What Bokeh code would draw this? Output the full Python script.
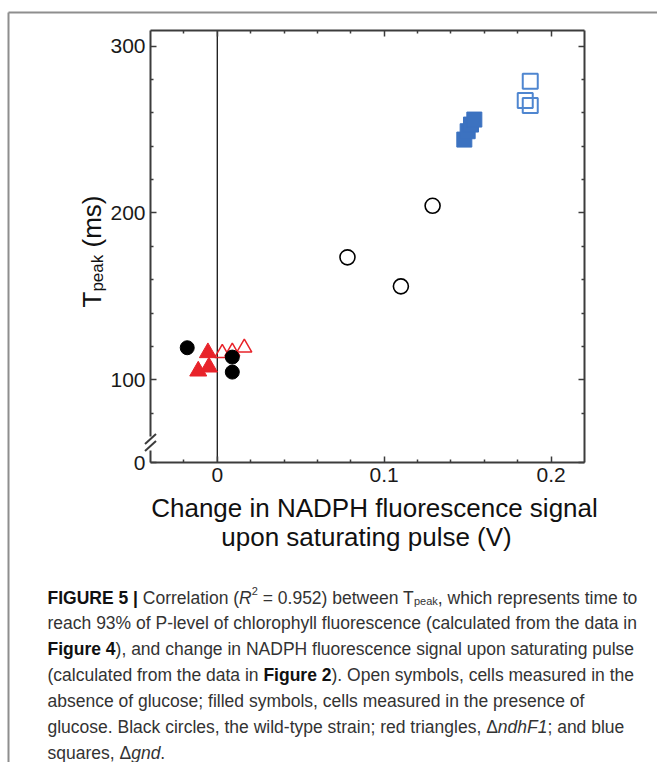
import math
from bokeh.plotting import figure
from bokeh.models import Range1d, LinearAxis, FixedTicker, Span, ColumnDataSource
from bokeh.core.properties import value, field
from bokeh.embed import file_html
from bokeh.resources import INLINE

# ---------------- data ----------------
wt_glc_x = [-0.018, 0.009, 0.009]
wt_glc_y = [119.2, 113.6, 104.6]
wt_noglc_x = [0.078, 0.110, 0.129]
wt_noglc_y = [173.4, 156.0, 204.3]
ndh_glc_x = [-0.0114, -0.005, -0.0056]
ndh_glc_y = [105.2, 107.6, 116.2]
ndh_noglc_x = [0.003, 0.009, 0.0162]
ndh_noglc_y = [116.0, 116.8, 119.2]
gnd_glc_x = [0.148, 0.150, 0.152, 0.154]
gnd_glc_y = [244.0, 249.0, 253.0, 256.0]
gnd_noglc_x = [0.1845, 0.1875, 0.1875]
gnd_noglc_y = [267.5, 264.5, 279.0]

x_ticks = [0.0, 0.1, 0.2]
x_tick_labels = ["0", "0.1", "0.2"]
x_minor = [-0.02, 0.02, 0.04, 0.06, 0.08, 0.12, 0.14, 0.16, 0.18]
y_ticks = [100, 200, 300]
y_tick_labels = ["100", "200", "300"]
y_minor = [80, 120, 140, 160, 180, 220, 240, 260, 280]
y_break_label = "0"

x_title = ["Change in NADPH fluorescence signal", "upon saturating pulse (V)"]
y_title = [("T", "r"), ("peak", "sub"), (" (ms)", "r")]

caption_lines = [
    [("FIGURE 5", "b"), (" | ", "b"), ("Correlation (", "r"), ("R", "i"), ("2", "sup"),
     (" = 0.952) between T", "r"), ("peak", "sub"), (", which represents time to", "r")],
    [("reach 93% of P-level of chlorophyll fluorescence (calculated from the data in", "r")],
    [("Figure 4", "b"), ("), and change in NADPH fluorescence signal upon saturating pulse", "r")],
    [("(calculated from the data in ", "r"), ("Figure 2", "b"), ("). Open symbols, cells measured in the", "r")],
    [("absence of glucose; filled symbols, cells measured in the presence of", "r")],
    [("glucose. Black circles, the wild-type strain; red triangles, \u0394", "r"), ("ndhF1", "i"), ("; and blue", "r")],
    [("squares, \u0394", "r"), ("gnd", "i"), (".", "r")],
]

# ---------------- page geometry ----------------
W, H = 657, 762
FL, FR, FT, FB = 150, 584, 30, 462
XL, XR = -0.04, 0.22
YB, YT = 50.4, 309.4
BORDER = "#8e8e8e"
AX = "#3c3c3c"
TICK_FONT = "Liberation Sans"
TITLE_FONT = "Liberation Sans"
CAP_FONT = "Liberation Sans"


def dx(cx):
    return XL + (cx - FL) * (XR - XL) / (FR - FL)


def dy(cy):
    return YB + (FB - cy) * (YT - YB) / (FB - FT)


# ---------------- text metrics (Arial-compatible widths) ----------------
REG = {}
for ch, w in zip("abcdefghijklmnopqrstuvwxyz",
                 [556, 556, 500, 556, 556, 278, 556, 556, 222, 222, 500, 222, 833, 556, 556, 556,
                  556, 333, 500, 278, 556, 500, 722, 500, 500, 500]):
    REG[ch] = w
for ch, w in zip("ABCDEFGHIJKLMNOPQRSTUVWXYZ",
                 [667, 667, 722, 722, 667, 611, 778, 722, 278, 500, 667, 556, 833, 722, 778, 667,
                  778, 722, 667, 611, 722, 667, 944, 667, 667, 611]):
    REG[ch] = w
for ch in "0123456789":
    REG[ch] = 556
REG.update({" ": 278, ".": 278, ",": 278, ";": 278, ":": 278, "(": 333, ")": 333, "|": 260,
            "=": 584, "%": 889, "-": 333, "\u0394": 668})
BOLD = dict(REG)
for ch, w in zip("abcdefghijklmnopqrstuvwxyz",
                 [556, 611, 556, 611, 556, 333, 611, 611, 278, 278, 556, 278, 889, 611, 611, 611,
                  611, 389, 556, 333, 611, 556, 778, 556, 556, 500]):
    BOLD[ch] = w
BOLD["|"] = 280


def text_w(s, size, bold=False):
    tbl = BOLD if bold else REG
    return sum(tbl.get(c, 556) for c in s) * size / 1000.0


def split_spaces(s):
    core = s.strip(" ")
    lead = len(s) - len(s.lstrip(" "))
    trail = len(s) - len(s.rstrip(" "))
    return lead, core, trail


# ---------------- figure ----------------
p = figure(width=W, height=H, output_backend="svg", toolbar_location=None,
           x_range=Range1d(XL, XR), y_range=Range1d(YB, YT),
           x_axis_type=None, y_axis_type=None,
           min_border_left=FL, min_border_right=W - FR,
           min_border_top=FT, min_border_bottom=H - FB)
p.outline_line_color = None
p.background_fill_color = "white"
p.border_fill_color = "white"


def make_axis(ticks, minor, labels, show):
    ax = LinearAxis(ticker=FixedTicker(ticks=ticks, minor_ticks=minor))
    ax.axis_line_color = AX
    ax.axis_line_width = 2
    ax.major_tick_in = 6
    ax.major_tick_out = 0
    ax.minor_tick_in = 3
    ax.minor_tick_out = 0
    ax.major_tick_line_color = AX
    ax.minor_tick_line_color = AX
    ax.major_tick_line_width = 1.5
    ax.minor_tick_line_width = 1.5
    ax.major_label_overrides = {t: (l if show else "") for t, l in zip(ticks, labels)}
    ax.major_label_text_font = TICK_FONT
    ax.major_label_text_font_size = "21px" if show else "1px"
    ax.major_label_text_color = "#1a1a1a"
    ax.major_label_standoff = 5 if show else 0
    return ax


yt_ticks = [YB] + y_ticks
yt_labels = [y_break_label] + y_tick_labels
p.add_layout(make_axis(x_ticks, x_minor, x_tick_labels, True), "below")
p.add_layout(make_axis(x_ticks, x_minor, x_tick_labels, False), "above")
p.add_layout(make_axis(yt_ticks, y_minor, yt_labels, True), "left")
p.add_layout(make_axis(yt_ticks, y_minor, yt_labels, False), "right")

p.add_layout(Span(location=0, dimension="height", line_color="black", line_width=1.2, level="underlay"))

RED = "#e8232a"
BLUE = "#3c72c0"
BLUE_O = "#4f86d0"

p.scatter(ndh_noglc_x, ndh_noglc_y, marker="triangle", size=15, fill_color=None,
          line_color=RED, line_width=1.5)
p.scatter(ndh_glc_x, ndh_glc_y, marker="triangle", size=17, fill_color=RED, line_color=RED)
p.scatter(wt_glc_x, wt_glc_y, marker="circle", size=14, fill_color="black", line_color="black")
p.scatter(wt_noglc_x, wt_noglc_y, marker="circle", size=15, fill_color=None,
          line_color="black", line_width=1.6)
p.scatter(gnd_glc_x, gnd_glc_y, marker="square", size=15, fill_color=BLUE, line_color=BLUE)
p.scatter(gnd_noglc_x, gnd_noglc_y, marker="square", size=15, fill_color=None,
          line_color=BLUE_O, line_width=2)

# axis break on the left axis (gap + two slashes)
p.segment(x0=[dx(FL)], y0=[dy(436)], x1=[dx(FL)], y1=[dy(450)], line_color="white",
          line_width=6, level="overlay")
p.segment(x0=[dx(FL - 5.5)] * 2, y0=[dy(443.5), dy(450.5)], x1=[dx(FL + 5.5)] * 2,
          y1=[dy(433.5), dy(440.5)], line_color=AX, line_width=2, level="overlay")

# page border (left & top)
p.segment(x0=[dx(8), dx(8)], y0=[dy(12), dy(12)], x1=[dx(W + 20), dx(8)], y1=[dy(12), dy(H + 20)],
          line_color=BORDER, line_width=2, level="overlay")

# ---------------- axis titles ----------------
p.text(x=[dx(374), dx(366)], y=[dy(507), dy(536)], text=x_title,
       text_align="center", text_baseline="middle", text_font=value(TITLE_FONT),
       text_font_size="26px", text_color="#111111", level="overlay")

ytx, yty, ytt, yts = [], [], [], []
cur = 307  # canvas y where the rotated title starts (reads bottom to top)
for txt, st in y_title:
    sz = 17 if st == "sub" else 26
    off = 6 if st == "sub" else 0
    lead, core, trail = split_spaces(txt)
    cur -= lead * text_w(" ", sz)
    ytx.append(dx(91 + off))
    yty.append(dy(cur))
    ytt.append(core)
    yts.append(f"{sz}px")
    cur -= text_w(core, sz) + trail * text_w(" ", sz)
p.text(x="x", y="y", text="t", source=ColumnDataSource(dict(x=ytx, y=yty, t=ytt, s=yts)),
       angle=math.pi / 2, text_align="left", text_baseline="alphabetic",
       text_font=value(TITLE_FONT), text_font_size=field("s"), text_color="#111111",
       level="overlay")

# ---------------- caption ----------------
CS, SS = 17.5, 11
cx_l, cy_l, ct_l, cs_l, cst_l, cc_l = [], [], [], [], [], []
for i, runs in enumerate(caption_lines):
    base = 597 + i * 25.9
    cx = 47
    for txt, st in runs:
        size, off, style, color = CS, 0, "normal", "#333333"
        bold = st == "b"
        if bold:
            style, color = "bold", "#111111"
        elif st == "i":
            style = "italic"
        elif st == "sup":
            size, off = SS, -7
        elif st == "sub":
            size, off = SS, 3
        lead, core, trail = split_spaces(txt)
        cx += lead * text_w(" ", size, bold)
        cx_l.append(dx(cx))
        cy_l.append(dy(base + off))
        ct_l.append(core)
        cs_l.append(f"{size}px")
        cst_l.append(style)
        cc_l.append(color)
        cx += text_w(core, size, bold) + trail * text_w(" ", size, bold)
p.text(x="x", y="y", text="t",
       source=ColumnDataSource(dict(x=cx_l, y=cy_l, t=ct_l, s=cs_l, st=cst_l, c=cc_l)),
       text_align="left", text_baseline="alphabetic", text_font=value(CAP_FONT),
       text_font_size=field("s"), text_font_style=field("st"), text_color=field("c"),
       level="overlay")

open("out.html", "w").write(file_html(p, INLINE))
